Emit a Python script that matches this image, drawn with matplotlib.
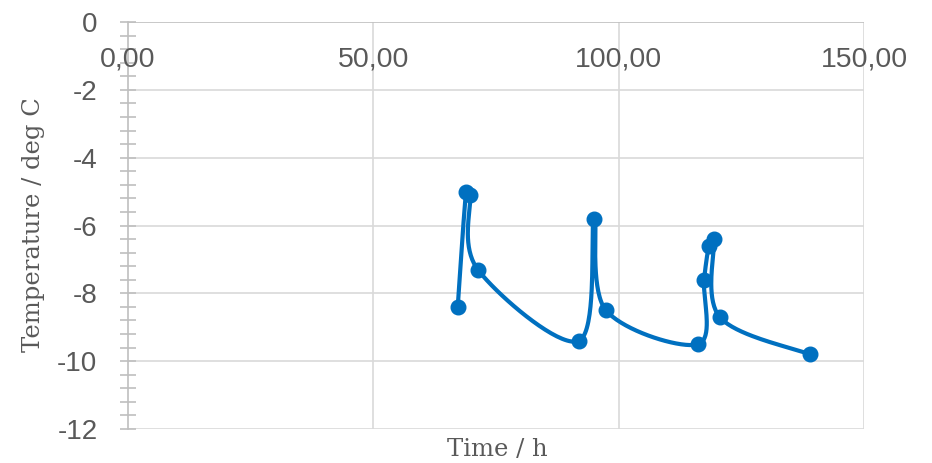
import numpy as np
import matplotlib
matplotlib.use("Agg")
import matplotlib.pyplot as plt
from matplotlib.ticker import MultipleLocator

plt.rcParams["axes.unicode_minus"] = False

# measured temperature over time
time_h = [67.2, 68.9, 69.7, 71.3, 91.9, 95.0, 97.4, 116.2, 117.4, 118.4, 119.4, 120.6, 139.0]
temp_c = [-8.4, -5.0, -5.1, -7.3, -9.4, -5.8, -8.5, -9.5, -7.6, -6.6, -6.4, -8.7, -9.8]

x_ticks = [0, 50, 100, 150]
y_ticks = [0, -2, -4, -6, -8, -10, -12]

BLUE = "#0070C0"
GRID = "#D9D9D9"
TXT = "#595959"


def smooth_curve(x, y, sx, sy, n=40):
    """Bezier spline through the points (Catmull-Rom control points,
    computed in scaled coordinates, handles clamped to the segment length
    so short segments don't overshoot)."""
    p = np.column_stack([np.asarray(x) * sx, np.asarray(y) * sy])
    out = []
    for i in range(len(p) - 1):
        p0 = p[i - 1] if i > 0 else p[i]
        p1, p2 = p[i], p[i + 1]
        p3 = p[i + 2] if i + 2 < len(p) else p[i + 1]
        seg_len = np.hypot(*(p2 - p1))
        d1 = (p2 - p0) / 6.0
        d2 = (p3 - p1) / 6.0
        for d in (d1, d2):
            L = np.hypot(*d)
            if L > seg_len * 0.4:
                d *= seg_len * 0.4 / L
        c1 = p1 + d1
        c2 = p2 - d2
        t = np.linspace(0, 1, n)[:, None]
        seg = ((1 - t) ** 3) * p1 + 3 * ((1 - t) ** 2) * t * c1 \
            + 3 * (1 - t) * t ** 2 * c2 + t ** 3 * p2
        out.append(seg if i == 0 else seg[1:])
    pts = np.vstack(out)
    return pts[:, 0] / sx, pts[:, 1] / sy


fig = plt.figure(figsize=(9.32, 4.63), dpi=100)
ax = fig.add_axes([128 / 932, 1 - 429 / 463, 736 / 932, 407 / 463])

ax.set_xlim(0, 150)
ax.set_ylim(-12, 0)

# gridlines
for xv in x_ticks[1:]:
    ax.axvline(xv, color=GRID, lw=1.2, zorder=0)
for yv in y_ticks[1:]:
    ax.axhline(yv, color=GRID, lw=1.2, zorder=0)

for s in ["top", "bottom", "right"]:
    ax.spines[s].set_visible(False)
ax.spines["left"].set_color("#BFBFBF")
ax.spines["left"].set_linewidth(1.2)
ax.axhline(0, color="#BFBFBF", lw=1.2, zorder=0)

ax.yaxis.set_major_locator(MultipleLocator(2))
ax.yaxis.set_minor_locator(MultipleLocator(0.4))
ax.tick_params(axis="y", which="both", direction="inout", color="#BFBFBF",
               width=1.2, labelsize=20, labelcolor=TXT, pad=16)
ax.tick_params(axis="y", which="major", length=12)
ax.tick_params(axis="y", which="minor", length=11)
ax.set_yticks(y_ticks)

# x tick labels sit just below the zero line at the top
ax.set_xticks([])
for xv in x_ticks:
    ax.text(xv, -1.12, f"{xv:.2f}".replace(".", ","), ha="center", va="center",
            fontsize=20.5, color=TXT, family="Liberation Sans")
for lab in ax.get_yticklabels():
    lab.set_family("Liberation Sans")

sx, sy = 736 / 150, 407 / 12
cx, cy = smooth_curve(time_h, temp_c, sx, sy)
ax.plot(cx, cy, color=BLUE, lw=3, solid_capstyle="round", zorder=3)
ax.plot(time_h, temp_c, "o", color=BLUE, ms=10.5, zorder=4)

fig.text(497 / 932, 1 - 450 / 463, "Time / h", ha="center", va="center",
         fontsize=17.5, color=TXT, family="DejaVu Serif")
fig.text(34 / 932, 1 - 225 / 463, "Temperature / deg C", ha="center", va="center",
         rotation=90, fontsize=17.5, color=TXT, family="DejaVu Serif")

fig.savefig("out.png", dpi=100)
